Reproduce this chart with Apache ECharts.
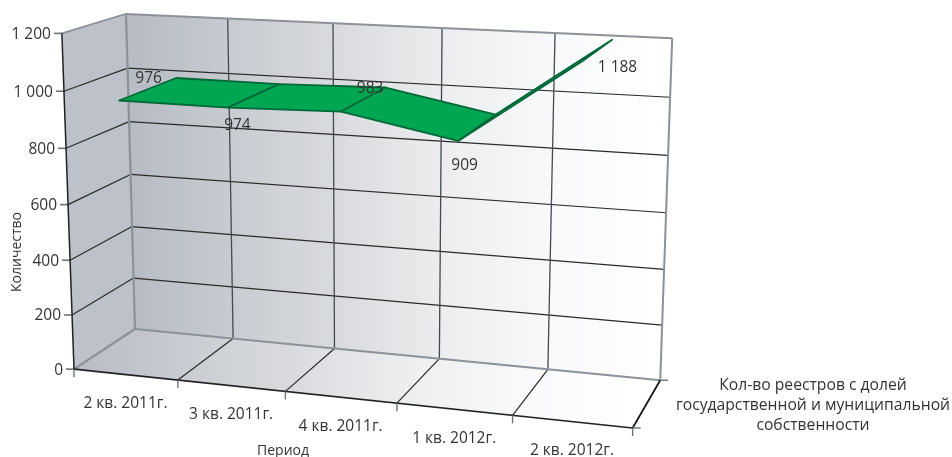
<!DOCTYPE html>
<html>
<head>
<meta charset="utf-8">
<style>html,body{margin:0;padding:0;background:#fff}#c{width:952px;height:457px}</style>
<script src="https://cdn.jsdelivr.net/npm/echarts@6/dist/echarts.min.js"></script>
</head>
<body>
<div id="c"></div>
<script>
// ---- chart data ----
const categories = ['2 кв. 2011г.', '3 кв. 2011г.', '4 кв. 2011г.', '1 кв. 2012г.', '2 кв. 2012г.'];
const seriesValues = [976, 974, 983, 909, 1188];
const valueLabels = ['976', '974', '983', '909', '1 188'];
const yTicks = [0, 200, 400, 600, 800, 1000, 1200];
const yTickLabels = ['0', '200', '400', '600', '800', '1 000', '1 200'];
const yTitle = 'Количество';
const xTitle = 'Период';
const seriesName = 'Кол-во реестров с долей\nгосударственной и муниципальной\nсобственности';

// ---- 3D view: homogeneous projection of the (category, value, depth) box ----
const VIEW = {
  origin: [135, 329],
  vpX: [-5800, -250], kX: -0.0813,
  vpY: [372, 8610],   kY: -0.03665,
  vpZ: [1030, -260],  kZ: -0.0638
};
function project(u, v, w) {
  const a = u * VIEW.kX, b = v * VIEW.kY, c = w * VIEW.kZ, d = 1 + a + b + c;
  return [
    (VIEW.origin[0] + a * VIEW.vpX[0] + b * VIEW.vpY[0] + c * VIEW.vpZ[0]) / d,
    (VIEW.origin[1] + a * VIEW.vpX[1] + b * VIEW.vpY[1] + c * VIEW.vpZ[1]) / d
  ];
}
const GRID = { left: 100, top: 50, width: 500, height: 300 };
const RIBBON = { back: 0.03, front: 0.97 };
// label nudges relative to the ribbon mid-point of each value
const labelNudge = [[0, -10], [-17, 30], [6, -11], [-13, 38], [20, 17]];

const FONT = '"Open Sans", "Noto Sans", sans-serif';
const TEXT = '#333333', EDGE = '#8b9299', DARK = '#222222', GRIDC = '#2a2a2a', TICK = '#6f7378';
const FILL_STOPS = [
  { offset: 0, color: '#b8bcc4' },
  { offset: 0.2, color: '#c9ccd2' },
  { offset: 0.4, color: '#dadcdf' },
  { offset: 0.6, color: '#eceef0' },
  { offset: 0.8, color: '#f8f9fa' },
  { offset: 1, color: '#ffffff' }
];

function uvFrom(api, cat, val) {
  const p = api.coord([cat, val]);
  return [(p[0] - GRID.left) / GRID.width, (GRID.top + GRID.height - p[1]) / GRID.height];
}
const line = (a, b, stroke, lineWidth) => ({
  type: 'line', silent: true,
  shape: { x1: a[0], y1: a[1], x2: b[0], y2: b[1] },
  style: { stroke, lineWidth, fill: null }
});
const poly = (pts, fill) => ({ type: 'polygon', silent: true, shape: { points: pts }, style: { fill } });
const text = (s, x, y, o) => ({
  type: 'text', silent: true, x, y, rotation: (o && o.rotation) || 0,
  style: Object.assign({
    text: s, x: 0, y: 0, fill: TEXT, font: '15.5px ' + FONT, align: 'center', verticalAlign: 'middle'
  }, o && o.style)
});

function renderFrame(params, api) {
  const ch = [];
  const grad = new echarts.graphic.LinearGradient(project(0,0,0)[0], 0, project(1,0,0)[0], 0, FILL_STOPS, true);
  const floorGrad = new echarts.graphic.LinearGradient(project(0,0,1)[0], 0, project(1,0,1)[0], 0, FILL_STOPS, true);
  // walls
  ch.push(poly([project(0,0,0), project(0,1,0), project(0,1,1), project(0,0,1)], '#bdc1c9'));
  ch.push(poly([project(0,0,0), project(1,0,0), project(1,1,0), project(0,1,0)], grad));
  ch.push(poly([project(0,0,0), project(1,0,0), project(1,0,1), project(0,0,1)], floorGrad));
  // value gridlines on left and back walls
  yTicks.forEach((t, k) => {
    const v = uvFrom(api, 0, t)[1];
    if (t > 0 && t < 1200) {
      ch.push(line(project(0,v,0), project(1,v,0), GRIDC, 1.2));
      ch.push(line(project(0,v,0), project(0,v,1), GRIDC, 1.2));
    }
    const f = project(0,v,1);
    ch.push(line([f[0] - 8, f[1]], f, TICK, 1.6));
    ch.push(text(yTickLabels[k], f[0] - 11, f[1] + 1, { style: { align: 'right' } }));
  });
  // category gridlines on back wall and floor
  categories.forEach((c, i) => {
    if (i > 0) {
      const u = i / categories.length;
      ch.push(line(project(u,0,0), project(u,1,0), '#444a50', 1.3));
      ch.push(line(project(u,0,0), project(u,0,1), GRIDC, 1.2));
    }
  });
  // frame
  ch.push(line(project(0,1,0), project(1,1,0), EDGE, 2));
  ch.push(line(project(1,1,0), project(1,0,0), EDGE, 2));
  ch.push(line(project(0,1,0), project(0,0,0), EDGE, 2.2));
  ch.push(line(project(0,1,0), project(0,1,1), EDGE, 1.8));
  ch.push(line(project(0,0,0), project(1,0,0), EDGE, 2.2));
  ch.push(line(project(0,0,0), project(0,0,1), EDGE, 2.2));
  ch.push(line(project(0,1,1), project(0,0,1), DARK, 1.5));
  ch.push(line(project(0,0,1), project(1,0,1), DARK, 1.7));
  ch.push(line(project(1,0,0), project(1,0,1), '#111', 1.7));
  // category ticks and labels
  for (let i = 0; i <= categories.length; i++) {
    const p = project(i / categories.length, 0, 1);
    ch.push(line(p, [p[0], p[1] + 8], TICK, 1.4));
  }
  categories.forEach((c, i) => {
    const p = project((i + 0.5) / categories.length, 0, 1);
    ch.push(text(c, p[0], p[1] + 29));
  });
  // depth ticks
  [project(1,0,0), project(1,0,1)].forEach((p) => ch.push(line(p, [p[0] + 8, p[1]], TICK, 1.4)));
  // titles
  ch.push(text(yTitle, 17, 252, { rotation: Math.PI / 2, style: { font: '14px ' + FONT } }));
  ch.push(text(xTitle, 283, 451, { style: { font: '14px ' + FONT } }));
  ch.push(text(seriesName, 813, 406, { style: { font: '15.7px ' + FONT, lineHeight: 20 } }));
  return { type: 'group', children: ch };
}

function renderRibbon(params, api) {
  const i = params.dataIndex;
  const ch = [];
  const a = uvFrom(api, api.value(0), api.value(1));
  if (i < seriesValues.length - 1) {
    const b = uvFrom(api, i + 1, seriesValues[i + 1]);
    ch.push({
      type: 'polygon', silent: true,
      shape: { points: [
        project(a[0], a[1], RIBBON.back), project(b[0], b[1], RIBBON.back),
        project(b[0], b[1], RIBBON.front), project(a[0], a[1], RIBBON.front)
      ] },
      style: { fill: '#00a651', stroke: '#006838', lineWidth: 1.8, lineJoin: 'round' }
    });
  }
  const m = project(a[0], a[1], (RIBBON.back + RIBBON.front) / 2);
  const n = labelNudge[i];
  ch.push(text(valueLabels[i], m[0] + n[0], m[1] + n[1]));
  ch.forEach((e, k) => { e.z2 = 10 + k; });
  return { type: 'group', children: ch };
}

const chart = echarts.init(document.getElementById('c'), null, { renderer: 'canvas' });
chart.setOption({
  animation: false,
  backgroundColor: '#ffffff',
  tooltip: { show: false },
  grid: GRID,
  xAxis: { type: 'category', data: categories, show: false },
  yAxis: { type: 'value', min: 0, max: 1200, interval: 200, show: false },
  series: [
    { type: 'custom', name: 'frame', silent: true, clip: false, data: [[0, 0]], renderItem: renderFrame, z: 1 },
    { type: 'custom', name: seriesName, silent: true, clip: false, renderItem: renderRibbon, z: 2,
      data: seriesValues.map((v, i) => [i, v]) }
  ]
});
</script>
</body>
</html>
